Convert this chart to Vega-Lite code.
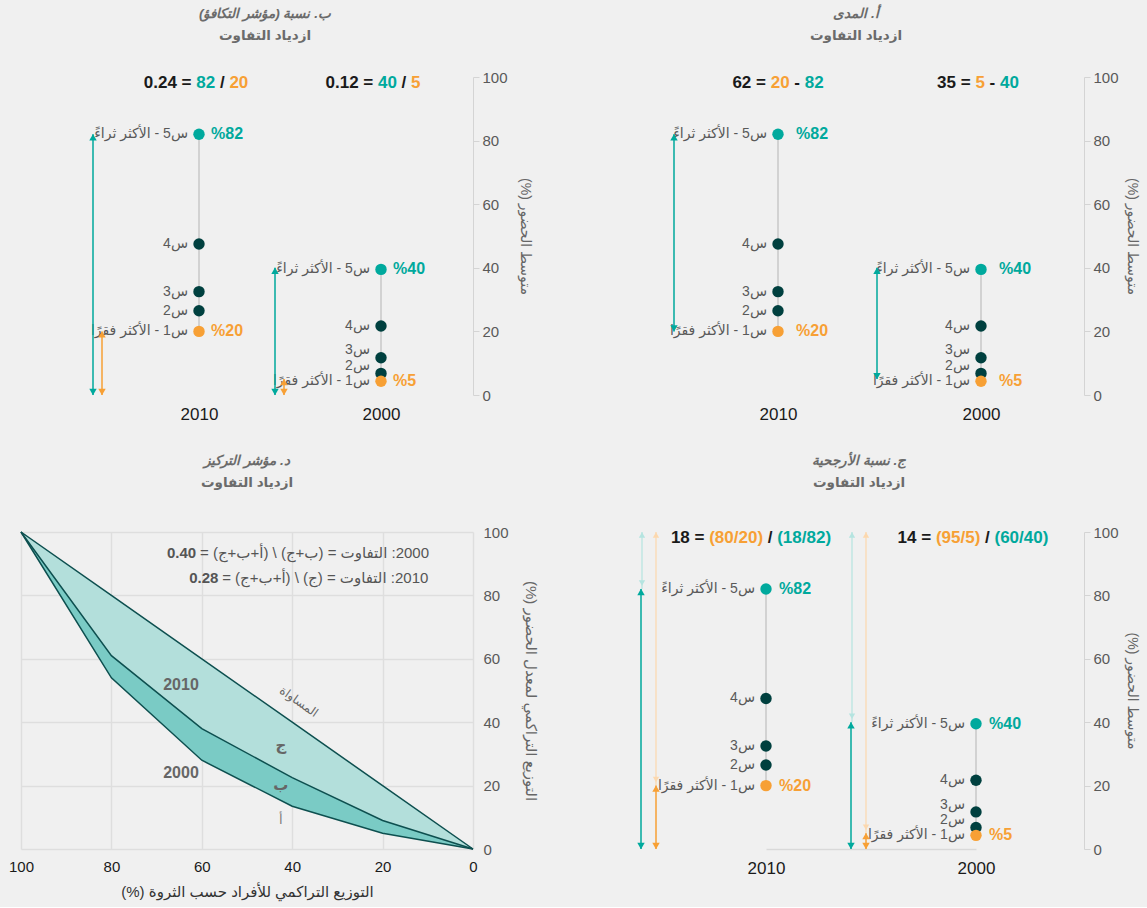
{
"$schema":"https://vega.github.io/schema/vega-lite/v6.json",
"background":"#f0f0f0",
"padding":{"left":8,"top":7,"right":8,"bottom":8},
"config":{
 "view":{"stroke":null},
 "font":"Liberation Sans, DejaVu Sans, sans-serif",
 "axis":{"labelFontSize":15,"labelColor":"#595959","titleFontSize":15,"titleColor":"#666666","titleFontWeight":"normal","domainColor":"#d4d4d4","tickColor":"#d4d4d4","gridColor":"#dedede","gridWidth":1.5,"labelFont":"Liberation Sans, DejaVu Sans, sans-serif","titleFont":"Liberation Sans, DejaVu Sans, sans-serif"},
 "title":{"anchor":"middle","font":"Liberation Sans, DejaVu Sans, sans-serif","subtitleFont":"Liberation Sans, DejaVu Sans, sans-serif","fontSize":13.5,"fontWeight":"bold","fontStyle":"italic","color":"#6b6b6b","subtitleFontSize":13.5,"subtitleFontWeight":"bold","subtitleFontStyle":"normal","subtitleColor":"#6b6b6b","subtitlePadding":8}
},
"datasets":{
 "q":[
  {"year":"2010","q":5,"value":82,"ly":82,"label":"س5 - الأكثر ثراءً","pct":"%82"},
  {"year":"2010","q":4,"value":47.5,"ly":47.5,"label":"س4","pct":""},
  {"year":"2010","q":3,"value":32.5,"ly":32.5,"label":"س3","pct":""},
  {"year":"2010","q":2,"value":26.5,"ly":26.5,"label":"س2","pct":""},
  {"year":"2010","q":1,"value":20,"ly":20,"label":"س1 - الأكثر فقرًا","pct":"%20"},
  {"year":"2000","q":5,"value":39.5,"ly":39.5,"label":"س5 - الأكثر ثراءً","pct":"%40"},
  {"year":"2000","q":4,"value":21.7,"ly":21.7,"label":"س4","pct":""},
  {"year":"2000","q":3,"value":11.7,"ly":14,"label":"س3","pct":""},
  {"year":"2000","q":2,"value":6.8,"ly":9,"label":"س2","pct":""},
  {"year":"2000","q":1,"value":4.3,"ly":4.3,"label":"س1 - الأكثر فقرًا","pct":"%5"}
 ],
 "arr":[
  {"panel":"A","year":"2010","kind":"teal","lo":20,"hi":82},
  {"panel":"A","year":"2000","kind":"teal","lo":5,"hi":40},
  {"panel":"B","year":"2010","kind":"teal","lo":0,"hi":82},
  {"panel":"B","year":"2010","kind":"orange","lo":0,"hi":20},
  {"panel":"B","year":"2000","kind":"teal","lo":0,"hi":40},
  {"panel":"B","year":"2000","kind":"orange","lo":0,"hi":5},
  {"panel":"C","year":"2010","kind":"teal","lo":0,"hi":82},
  {"panel":"C","year":"2010","kind":"orange","lo":0,"hi":20},
  {"panel":"C","year":"2010","kind":"lteal","lo":82,"hi":100},
  {"panel":"C","year":"2010","kind":"lorange","lo":20,"hi":100},
  {"panel":"C","year":"2000","kind":"teal","lo":0,"hi":40},
  {"panel":"C","year":"2000","kind":"orange","lo":0,"hi":5},
  {"panel":"C","year":"2000","kind":"lteal","lo":40,"hi":100},
  {"panel":"C","year":"2000","kind":"lorange","lo":5,"hi":100}
 ],
 "hdr":[
  {"id":"B10k1","year":"2010","t":"0.24 ="},{"id":"B10c1","year":"2010","t":"82"},{"id":"B10k2","year":"2010","t":"/"},{"id":"B10c2","year":"2010","t":"20"},
  {"id":"B00k1","year":"2000","t":"0.12 ="},{"id":"B00c1","year":"2000","t":"40"},{"id":"B00k2","year":"2000","t":"/"},{"id":"B00c2","year":"2000","t":"5"},
  {"id":"A10k1","year":"2010","t":"62 ="},{"id":"A10c1","year":"2010","t":"20"},{"id":"A10k2","year":"2010","t":"-"},{"id":"A10c2","year":"2010","t":"82"},
  {"id":"A00k1","year":"2000","t":"35 ="},{"id":"A00c1","year":"2000","t":"5"},{"id":"A00k2","year":"2000","t":"-"},{"id":"A00c2","year":"2000","t":"40"},
  {"id":"C10k1","year":"2010","t":"18 ="},{"id":"C10c1","year":"2010","t":"(80/20)"},{"id":"C10k2","year":"2010","t":"/"},{"id":"C10c2","year":"2010","t":"(18/82)"},
  {"id":"C00k1","year":"2000","t":"14 ="},{"id":"C00c1","year":"2000","t":"(95/5)"},{"id":"C00k2","year":"2000","t":"/"},{"id":"C00c2","year":"2000","t":"(60/40)"}
 ],
 "lor":[
  {"p":100,"eq":100,"c2010":100,"c2000":100},
  {"p":80,"eq":80,"c2010":61,"c2000":54},
  {"p":60,"eq":60,"c2010":38,"c2000":28},
  {"p":40,"eq":40,"c2010":22.5,"c2000":13.5},
  {"p":20,"eq":20,"c2010":9,"c2000":5},
  {"p":0,"eq":0,"c2010":0,"c2000":0}
 ],
 "dl":[
  {"x":64.6,"y":51.7,"t":"2010","k":"yr"},
  {"x":64.6,"y":24,"t":"2000","k":"yr"},
  {"x":42.5,"y":32.8,"t":"ج","k":"let"},
  {"x":42.5,"y":20.2,"t":"ب","k":"let"},
  {"x":42.5,"y":9.1,"t":"أ","k":"a"},
  {"x":38.5,"y":46.5,"t":"المساواة","k":"eq"}
 ],
 "fm":[
  {"x":67.7,"y":93.4,"num":"0.40","eq":"\u202B2000: التفاوت = (ب+ج) \\ (أ+ب+ج) =\u202C"},
  {"x":62.8,"y":85.5,"num":"0.28","eq":"\u202B2010: التفاوت = (ج) \\ (أ+ب+ج) =\u202C"}
 ]
},
"columns":2,
"spacing":{"row":137,"column":187},
"bounds":"flush",
"concat":[
   {"width":452,"height":318,
    "title":{"text":"\u202Bب. نسبة (مؤشر التكافؤ)\u202C","subtitle":"ازدياد التفاوت","dx":18,"offset":28},
    "layer":[
     {"data":{"name":"q"},"mark":{"type":"rule","color":"#c9c9c9","strokeWidth":1.5},
      "encoding":{"x":{"field":"year","type":"nominal","scale":{"type":"point","domain":["2010","2000"],"range":[178,360],"padding":0},"axis":{"title":null,"ticks":false,"domain":false,"labelColor":"#1a1a1a","labelFontSize":17,"labelPadding":11,"labelAngle":0}},
       "y":{"aggregate":"min","field":"value","type":"quantitative","scale":{"domain":[0,100],"nice":false},"axis":{"orient":"right","values":[0,20,40,60,80,100],"title":"\u202Bمتوسط الحضور (%)\u202C","titleFontSize":14,"grid":false,"domain":true,"ticks":true,"tickSize":6,"labelPadding":3,"titlePadding":10}},
       "y2":{"aggregate":"max","field":"value"}}},
     {"mark":{"type":"rule","color":"#d9d9d9","strokeWidth":1.5,"xOffset":-91,"x2Offset":92},
      "encoding":{"x":{"datum":"2010","type":"nominal"},"x2":{"datum":"2000"},"y":{"datum":0,"type":"quantitative"}}},
     {"data":{"name":"q"},"mark":{"type":"circle","size":130,"opacity":1},
      "encoding":{"x":{"field":"year","type":"nominal"},"y":{"field":"value","type":"quantitative"},"color":{"field":"q","type":"nominal","scale":{"domain":[1,2,3,4,5],"range":["#f7a035","#00403f","#00403f","#00403f","#00a99d"]},"legend":null}}},
     {"data":{"name":"q"},"mark":{"type":"text","align":"right","baseline":"middle","dx":-11,"fontSize":14,"color":"#595959"},
      "encoding":{"x":{"field":"year","type":"nominal"},"y":{"field":"ly","type":"quantitative"},"text":{"field":"label"}}},
     {"data":{"name":"q"},"transform":[{"filter":"datum.pct != ''"}],"mark":{"type":"text","align":"left","baseline":"middle","dx":12,"fontSize":16,"fontWeight":"bold"},
      "encoding":{"x":{"field":"year","type":"nominal"},"y":{"field":"value","type":"quantitative"},"text":{"field":"pct"},"color":{"field":"q","type":"nominal","legend":null}}},
     {"data":{"name":"arr"},"transform":[{"filter":"datum.panel=='B' && datum.kind=='teal'"}],"layer":[
      {"mark":{"type":"rule","color":"#00a99d","strokeWidth":1.5,"xOffset":-106},"encoding":{"x":{"field":"year","type":"nominal"},"y":{"field":"lo","type":"quantitative"},"y2":{"field":"hi"}}},
      {"mark":{"type":"point","shape":"triangle-up","filled":true,"opacity":1,"size":55,"color":"#00a99d","xOffset":-106,"yOffset":3},"encoding":{"x":{"field":"year","type":"nominal"},"y":{"field":"hi","type":"quantitative"}}},
      {"mark":{"type":"point","shape":"triangle-down","filled":true,"opacity":1,"size":55,"color":"#00a99d","xOffset":-106,"yOffset":-3},"encoding":{"x":{"field":"year","type":"nominal"},"y":{"field":"lo","type":"quantitative"}}}
     ]},
     {"data":{"name":"arr"},"transform":[{"filter":"datum.panel=='B' && datum.kind=='orange'"}],"layer":[
      {"mark":{"type":"rule","color":"#f7a035","strokeWidth":1.5,"xOffset":-97},"encoding":{"x":{"field":"year","type":"nominal"},"y":{"field":"lo","type":"quantitative"},"y2":{"field":"hi"}}},
      {"mark":{"type":"point","shape":"triangle-up","filled":true,"opacity":1,"size":55,"color":"#f7a035","xOffset":-97,"yOffset":3},"encoding":{"x":{"field":"year","type":"nominal"},"y":{"field":"hi","type":"quantitative"}}},
      {"mark":{"type":"point","shape":"triangle-down","filled":true,"opacity":1,"size":55,"color":"#f7a035","xOffset":-97,"yOffset":-3},"encoding":{"x":{"field":"year","type":"nominal"},"y":{"field":"lo","type":"quantitative"}}}
     ]},
     {"data":{"name":"hdr"},"encoding":{"x":{"field":"year","type":"nominal"},"y":{"datum":98,"type":"quantitative"},"text":{"field":"t"}},"layer":[
      {"transform":[{"filter":"datum.id=='B10k1'"}],"mark":{"type":"text","align":"left","baseline":"middle","fontSize":17,"fontWeight":"bold","color":"#1a1a1a","dx":-55.2}},
      {"transform":[{"filter":"datum.id=='B10c1'"}],"mark":{"type":"text","align":"left","baseline":"middle","fontSize":17,"fontWeight":"bold","color":"#00a99d","dx":-2.7}},
      {"transform":[{"filter":"datum.id=='B10k2'"}],"mark":{"type":"text","align":"left","baseline":"middle","fontSize":17,"fontWeight":"bold","color":"#1a1a1a","dx":20.9}},
      {"transform":[{"filter":"datum.id=='B10c2'"}],"mark":{"type":"text","align":"left","baseline":"middle","fontSize":17,"fontWeight":"bold","color":"#f7a035","dx":30.4}},
      {"transform":[{"filter":"datum.id=='B00k1'"}],"mark":{"type":"text","align":"left","baseline":"middle","fontSize":17,"fontWeight":"bold","color":"#1a1a1a","dx":-55.5}},
      {"transform":[{"filter":"datum.id=='B00c1'"}],"mark":{"type":"text","align":"left","baseline":"middle","fontSize":17,"fontWeight":"bold","color":"#00a99d","dx":-3.0}},
      {"transform":[{"filter":"datum.id=='B00k2'"}],"mark":{"type":"text","align":"left","baseline":"middle","fontSize":17,"fontWeight":"bold","color":"#1a1a1a","dx":20.6}},
      {"transform":[{"filter":"datum.id=='B00c2'"}],"mark":{"type":"text","align":"left","baseline":"middle","fontSize":17,"fontWeight":"bold","color":"#f7a035","dx":30.0}}
     ]}
    ]},
   {"width":424,"height":318,
    "title":{"text":"\u202Bأ. المدى\u202C","subtitle":"ازدياد التفاوت","dx":-16,"offset":28},
    "layer":[
     {"data":{"name":"q"},"mark":{"type":"rule","color":"#c9c9c9","strokeWidth":1.5},
      "encoding":{"x":{"field":"year","type":"nominal","scale":{"type":"point","domain":["2010","2000"],"range":[118,321],"padding":0},"axis":{"title":null,"ticks":false,"domain":false,"labelColor":"#1a1a1a","labelFontSize":17,"labelPadding":11,"labelAngle":0}},
       "y":{"aggregate":"min","field":"value","type":"quantitative","scale":{"domain":[0,100],"nice":false},"axis":{"orient":"right","values":[0,20,40,60,80,100],"title":"\u202Bمتوسط الحضور (%)\u202C","titleFontSize":14,"grid":false,"domain":true,"ticks":true,"tickSize":6,"labelPadding":3,"titlePadding":6}},
       "y2":{"aggregate":"max","field":"value"}}},
     {"mark":{"type":"rule","color":"#d9d9d9","strokeWidth":1.5,"xOffset":-102,"x2Offset":103},
      "encoding":{"x":{"datum":"2010","type":"nominal"},"x2":{"datum":"2000"},"y":{"datum":0,"type":"quantitative"}}},
     {"data":{"name":"q"},"mark":{"type":"circle","size":130,"opacity":1},
      "encoding":{"x":{"field":"year","type":"nominal"},"y":{"field":"value","type":"quantitative"},"color":{"field":"q","type":"nominal","scale":{"domain":[1,2,3,4,5],"range":["#f7a035","#00403f","#00403f","#00403f","#00a99d"]},"legend":null}}},
     {"data":{"name":"q"},"mark":{"type":"text","align":"right","baseline":"middle","dx":-11,"fontSize":14,"color":"#595959"},
      "encoding":{"x":{"field":"year","type":"nominal"},"y":{"field":"ly","type":"quantitative"},"text":{"field":"label"}}},
     {"data":{"name":"q"},"transform":[{"filter":"datum.pct != ''"}],"mark":{"type":"text","align":"left","baseline":"middle","dx":18,"fontSize":16,"fontWeight":"bold"},
      "encoding":{"x":{"field":"year","type":"nominal"},"y":{"field":"value","type":"quantitative"},"text":{"field":"pct"},"color":{"field":"q","type":"nominal","legend":null}}},
     {"data":{"name":"arr"},"transform":[{"filter":"datum.panel=='A' && datum.kind=='teal'"}],"layer":[
      {"mark":{"type":"rule","color":"#00a99d","strokeWidth":1.5,"xOffset":-104},"encoding":{"x":{"field":"year","type":"nominal"},"y":{"field":"lo","type":"quantitative"},"y2":{"field":"hi"}}},
      {"mark":{"type":"point","shape":"triangle-up","filled":true,"opacity":1,"size":55,"color":"#00a99d","xOffset":-104,"yOffset":3},"encoding":{"x":{"field":"year","type":"nominal"},"y":{"field":"hi","type":"quantitative"}}},
      {"mark":{"type":"point","shape":"triangle-down","filled":true,"opacity":1,"size":55,"color":"#00a99d","xOffset":-104,"yOffset":-3},"encoding":{"x":{"field":"year","type":"nominal"},"y":{"field":"lo","type":"quantitative"}}}
     ]},
     {"data":{"name":"hdr"},"encoding":{"x":{"field":"year","type":"nominal"},"y":{"datum":98,"type":"quantitative"},"text":{"field":"t"}},"layer":[
      {"transform":[{"filter":"datum.id=='A10k1'"}],"mark":{"type":"text","align":"left","baseline":"middle","fontSize":17,"fontWeight":"bold","color":"#1a1a1a","dx":-45.6}},
      {"transform":[{"filter":"datum.id=='A10c1'"}],"mark":{"type":"text","align":"left","baseline":"middle","fontSize":17,"fontWeight":"bold","color":"#f7a035","dx":-7.3}},
      {"transform":[{"filter":"datum.id=='A10k2'"}],"mark":{"type":"text","align":"left","baseline":"middle","fontSize":17,"fontWeight":"bold","color":"#1a1a1a","dx":16.3}},
      {"transform":[{"filter":"datum.id=='A10c2'"}],"mark":{"type":"text","align":"left","baseline":"middle","fontSize":17,"fontWeight":"bold","color":"#00a99d","dx":26.7}},
      {"transform":[{"filter":"datum.id=='A00k1'"}],"mark":{"type":"text","align":"left","baseline":"middle","fontSize":17,"fontWeight":"bold","color":"#1a1a1a","dx":-43.9}},
      {"transform":[{"filter":"datum.id=='A00c1'"}],"mark":{"type":"text","align":"left","baseline":"middle","fontSize":17,"fontWeight":"bold","color":"#f7a035","dx":-5.6}},
      {"transform":[{"filter":"datum.id=='A00k2'"}],"mark":{"type":"text","align":"left","baseline":"middle","fontSize":17,"fontWeight":"bold","color":"#1a1a1a","dx":8.6}},
      {"transform":[{"filter":"datum.id=='A00c2'"}],"mark":{"type":"text","align":"left","baseline":"middle","fontSize":17,"fontWeight":"bold","color":"#00a99d","dx":19.0}}
     ]}
    ]},
  {"width":452,"height":317,
   "title":{"text":"\u202Bد. مؤشر التركيز\u202C","subtitle":"ازدياد التفاوت","offset":36},
   "layer":[
    {"data":{"name":"lor"},"mark":{"type":"area","color":"#b3dfdb","opacity":1},
     "encoding":{"x":{"field":"p","type":"quantitative","scale":{"domain":[0,100],"reverse":true,"nice":false},"axis":{"values":[0,20,40,60,80,100],"grid":true,"ticks":false,"domain":false,"labelFlush":false,"labelColor":"#1a1a1a","labelPadding":10,"title":"\u202Bالتوزيع التراكمي للأفراد حسب الثروة (%)\u202C","titleColor":"#333333","titlePadding":10}},
      "y":{"field":"eq","type":"quantitative","scale":{"domain":[0,100],"nice":false},"axis":{"orient":"right","values":[0,20,40,60,80,100],"grid":true,"ticks":false,"domain":false,"labelFlush":false,"labelPadding":10,"title":"\u202Bالتوزيع التراكمي لمعدل الحضور (%)\u202C","titlePadding":14}},
      "y2":{"field":"c2010"}}},
    {"data":{"name":"lor"},"mark":{"type":"area","color":"#7acbc5","opacity":1},
     "encoding":{"x":{"field":"p","type":"quantitative"},"y":{"field":"c2010","type":"quantitative"},"y2":{"field":"c2000"}}},
    {"data":{"name":"lor"},"mark":{"type":"line","color":"#0d4f4f","strokeWidth":1.5},
     "encoding":{"x":{"field":"p","type":"quantitative"},"y":{"field":"eq","type":"quantitative"}}},
    {"data":{"name":"lor"},"mark":{"type":"line","color":"#0d4f4f","strokeWidth":1.5},
     "encoding":{"x":{"field":"p","type":"quantitative"},"y":{"field":"c2010","type":"quantitative"}}},
    {"data":{"name":"lor"},"mark":{"type":"line","color":"#0d4f4f","strokeWidth":1.5},
     "encoding":{"x":{"field":"p","type":"quantitative"},"y":{"field":"c2000","type":"quantitative"}}},
    {"data":{"name":"dl"},"transform":[{"filter":"datum.k=='yr'"}],"mark":{"type":"text","fontSize":16,"fontWeight":"bold","color":"#666666","baseline":"middle"},
     "encoding":{"x":{"field":"x","type":"quantitative"},"y":{"field":"y","type":"quantitative"},"text":{"field":"t"}}},
    {"data":{"name":"dl"},"transform":[{"filter":"datum.k=='let'"}],"mark":{"type":"text","fontSize":15,"fontWeight":"bold","color":"#666666","baseline":"middle"},
     "encoding":{"x":{"field":"x","type":"quantitative"},"y":{"field":"y","type":"quantitative"},"text":{"field":"t"}}},
    {"data":{"name":"dl"},"transform":[{"filter":"datum.k=='a'"}],"mark":{"type":"text","fontSize":13,"color":"#7a7a7a","baseline":"middle"},
     "encoding":{"x":{"field":"x","type":"quantitative"},"y":{"field":"y","type":"quantitative"},"text":{"field":"t"}}},
    {"data":{"name":"dl"},"transform":[{"filter":"datum.k=='eq'"}],"mark":{"type":"text","fontSize":12,"color":"#666666","baseline":"middle","angle":35},
     "encoding":{"x":{"field":"x","type":"quantitative"},"y":{"field":"y","type":"quantitative"},"text":{"field":"t"}}},
    {"data":{"name":"fm"},"mark":{"type":"text","align":"left","baseline":"middle","fontSize":15,"fontWeight":"bold","color":"#555555"},
     "encoding":{"x":{"field":"x","type":"quantitative"},"y":{"field":"y","type":"quantitative"},"text":{"field":"num"}}},
    {"data":{"name":"fm"},"mark":{"type":"text","align":"left","baseline":"middle","fontSize":15,"color":"#555555","dx":33},
     "encoding":{"x":{"field":"x","type":"quantitative"},"y":{"field":"y","type":"quantitative"},"text":{"field":"eq"}}}
   ]},
  {"width":424,"height":317,
   "title":{"text":"\u202Bج. نسبة الأرجحية\u202C","subtitle":"ازدياد التفاوت","dx":-13,"offset":36},
   "layer":[
     {"data":{"name":"q"},"mark":{"type":"rule","color":"#c9c9c9","strokeWidth":1.5},
      "encoding":{"x":{"field":"year","type":"nominal","scale":{"type":"point","domain":["2010","2000"],"range":[106,316],"padding":0},"axis":{"title":null,"ticks":false,"domain":true,"domainColor":"#d9d9d9","domainWidth":1.5,"labelColor":"#1a1a1a","labelFontSize":17,"labelPadding":11,"labelAngle":0}},
       "y":{"aggregate":"min","field":"value","type":"quantitative","scale":{"domain":[0,100],"nice":false},"axis":{"orient":"right","values":[0,20,40,60,80,100],"title":"\u202Bمتوسط الحضور (%)\u202C","titleFontSize":14,"grid":false,"domain":true,"ticks":true,"tickSize":6,"labelPadding":3,"titlePadding":6}},
       "y2":{"aggregate":"max","field":"value"}}},
     {"data":{"name":"q"},"mark":{"type":"circle","size":130,"opacity":1},
      "encoding":{"x":{"field":"year","type":"nominal"},"y":{"field":"value","type":"quantitative"},"color":{"field":"q","type":"nominal","scale":{"domain":[1,2,3,4,5],"range":["#f7a035","#00403f","#00403f","#00403f","#00a99d"]},"legend":null}}},
     {"data":{"name":"q"},"mark":{"type":"text","align":"right","baseline":"middle","dx":-11,"fontSize":14,"color":"#595959"},
      "encoding":{"x":{"field":"year","type":"nominal"},"y":{"field":"ly","type":"quantitative"},"text":{"field":"label"}}},
     {"data":{"name":"q"},"transform":[{"filter":"datum.pct != ''"}],"mark":{"type":"text","align":"left","baseline":"middle","dx":13,"fontSize":16,"fontWeight":"bold"},
      "encoding":{"x":{"field":"year","type":"nominal"},"y":{"field":"value","type":"quantitative"},"text":{"field":"pct"},"color":{"field":"q","type":"nominal","legend":null}}},
     {"data":{"name":"arr"},"transform":[{"filter":"datum.panel=='C' && datum.kind=='lteal'"}],"layer":[
      {"mark":{"type":"rule","color":"#b5e4e0","strokeWidth":1.2,"xOffset":-124},"encoding":{"x":{"field":"year","type":"nominal"},"y":{"field":"lo","type":"quantitative"},"y2":{"field":"hi"}}},
      {"mark":{"type":"point","shape":"triangle-up","filled":true,"opacity":1,"size":40,"color":"#b5e4e0","xOffset":-124,"yOffset":3},"encoding":{"x":{"field":"year","type":"nominal"},"y":{"field":"hi","type":"quantitative"}}},
      {"mark":{"type":"point","shape":"triangle-down","filled":true,"opacity":1,"size":40,"color":"#b5e4e0","xOffset":-124,"yOffset":-6},"encoding":{"x":{"field":"year","type":"nominal"},"y":{"field":"lo","type":"quantitative"}}}
     ]},
     {"data":{"name":"arr"},"transform":[{"filter":"datum.panel=='C' && datum.kind=='lorange'"}],"layer":[
      {"mark":{"type":"rule","color":"#fcd8ae","strokeWidth":1.2,"xOffset":-110},"encoding":{"x":{"field":"year","type":"nominal"},"y":{"field":"lo","type":"quantitative"},"y2":{"field":"hi"}}},
      {"mark":{"type":"point","shape":"triangle-up","filled":true,"opacity":1,"size":40,"color":"#fcd8ae","xOffset":-110,"yOffset":3},"encoding":{"x":{"field":"year","type":"nominal"},"y":{"field":"hi","type":"quantitative"}}},
      {"mark":{"type":"point","shape":"triangle-down","filled":true,"opacity":1,"size":40,"color":"#fcd8ae","xOffset":-110,"yOffset":-6},"encoding":{"x":{"field":"year","type":"nominal"},"y":{"field":"lo","type":"quantitative"}}}
     ]},
     {"data":{"name":"arr"},"transform":[{"filter":"datum.panel=='C' && datum.kind=='teal'"}],"layer":[
      {"mark":{"type":"rule","color":"#00a99d","strokeWidth":1.5,"xOffset":-125},"encoding":{"x":{"field":"year","type":"nominal"},"y":{"field":"lo","type":"quantitative"},"y2":{"field":"hi"}}},
      {"mark":{"type":"point","shape":"triangle-up","filled":true,"opacity":1,"size":55,"color":"#00a99d","xOffset":-125,"yOffset":3},"encoding":{"x":{"field":"year","type":"nominal"},"y":{"field":"hi","type":"quantitative"}}},
      {"mark":{"type":"point","shape":"triangle-down","filled":true,"opacity":1,"size":55,"color":"#00a99d","xOffset":-125,"yOffset":-3},"encoding":{"x":{"field":"year","type":"nominal"},"y":{"field":"lo","type":"quantitative"}}}
     ]},
     {"data":{"name":"arr"},"transform":[{"filter":"datum.panel=='C' && datum.kind=='orange'"}],"layer":[
      {"mark":{"type":"rule","color":"#f7a035","strokeWidth":1.5,"xOffset":-110},"encoding":{"x":{"field":"year","type":"nominal"},"y":{"field":"lo","type":"quantitative"},"y2":{"field":"hi"}}},
      {"mark":{"type":"point","shape":"triangle-up","filled":true,"opacity":1,"size":55,"color":"#f7a035","xOffset":-110,"yOffset":3},"encoding":{"x":{"field":"year","type":"nominal"},"y":{"field":"hi","type":"quantitative"}}},
      {"mark":{"type":"point","shape":"triangle-down","filled":true,"opacity":1,"size":55,"color":"#f7a035","xOffset":-110,"yOffset":-3},"encoding":{"x":{"field":"year","type":"nominal"},"y":{"field":"lo","type":"quantitative"}}}
     ]},
     {"data":{"name":"hdr"},"encoding":{"x":{"field":"year","type":"nominal"},"y":{"datum":98,"type":"quantitative"},"text":{"field":"t"}},"layer":[
      {"transform":[{"filter":"datum.id=='C10k1'"}],"mark":{"type":"text","align":"left","baseline":"middle","fontSize":17,"fontWeight":"bold","color":"#1a1a1a","dx":-95.1}},
      {"transform":[{"filter":"datum.id=='C10c1'"}],"mark":{"type":"text","align":"left","baseline":"middle","fontSize":17,"fontWeight":"bold","color":"#f7a035","dx":-56.8}},
      {"transform":[{"filter":"datum.id=='C10k2'"}],"mark":{"type":"text","align":"left","baseline":"middle","fontSize":17,"fontWeight":"bold","color":"#1a1a1a","dx":1.8}},
      {"transform":[{"filter":"datum.id=='C10c2'"}],"mark":{"type":"text","align":"left","baseline":"middle","fontSize":17,"fontWeight":"bold","color":"#00a99d","dx":11.2}},
      {"transform":[{"filter":"datum.id=='C00k1'"}],"mark":{"type":"text","align":"left","baseline":"middle","fontSize":17,"fontWeight":"bold","color":"#1a1a1a","dx":-78.4}},
      {"transform":[{"filter":"datum.id=='C00c1'"}],"mark":{"type":"text","align":"left","baseline":"middle","fontSize":17,"fontWeight":"bold","color":"#f7a035","dx":-40.1}},
      {"transform":[{"filter":"datum.id=='C00k2'"}],"mark":{"type":"text","align":"left","baseline":"middle","fontSize":17,"fontWeight":"bold","color":"#1a1a1a","dx":9.1}},
      {"transform":[{"filter":"datum.id=='C00c2'"}],"mark":{"type":"text","align":"left","baseline":"middle","fontSize":17,"fontWeight":"bold","color":"#00a99d","dx":18.5}}
     ]}
   ]}
]
}
